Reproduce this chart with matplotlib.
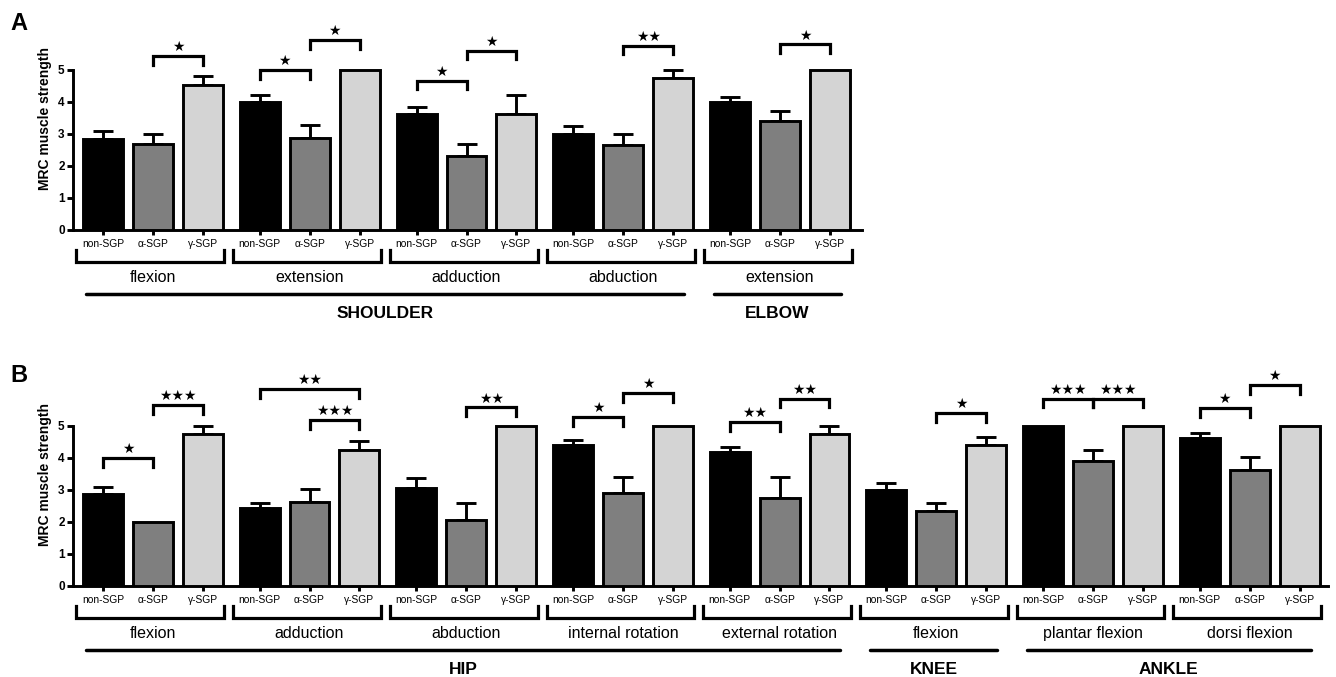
import matplotlib
matplotlib.use("Agg")
import matplotlib.pyplot as plt
import matplotlib.transforms as mtransforms
import numpy as np

plt.rcParams['font.family'] = ['Liberation Sans', 'DejaVu Sans']

# ---------------- data ----------------
groups_label = ["non-SGP", "α-SGP", "γ-SGP"]
bar_colors = ["#000000", "#7f7f7f", "#d4d4d4"]

# Panel A: shoulder / elbow
a_movements = ["flexion", "extension", "adduction", "abduction", "extension"]
a_non = [2.83, 3.99, 3.62, 3.00, 3.99]
a_alpha = [2.68, 2.87, 2.31, 2.67, 3.42]
a_gamma = [4.52, 5.00, 3.61, 4.76, 5.00]
a_non_err = [0.25, 0.23, 0.21, 0.24, 0.16]
a_alpha_err = [0.31, 0.40, 0.37, 0.33, 0.29]
a_gamma_err = [0.29, 0.00, 0.60, 0.24, 0.00]
a_joints = ["SHOULDER", "ELBOW"]
a_joint_groups = [(0, 3), (4, 4)]
# significance: (group, bar_i, bar_j, bracket height, label)
a_sig = [(0, 1, 2, 5.44, "★"),
         (1, 0, 1, 5.00, "★"), (1, 1, 2, 5.94, "★"),
         (2, 0, 1, 4.67, "★"), (2, 1, 2, 5.60, "★"),
         (3, 1, 2, 5.76, "★★"),
         (4, 1, 2, 5.80, "★")]

# Panel B: hip / knee / ankle
b_movements = ["flexion", "adduction", "abduction", "internal rotation",
               "external rotation", "flexion", "plantar flexion", "dorsi flexion"]
b_non = [2.87, 2.44, 3.07, 4.41, 4.18, 2.99, 5.00, 4.61]
b_alpha = [2.00, 2.62, 2.06, 2.92, 2.74, 2.34, 3.91, 3.62]
b_gamma = [4.75, 4.25, 5.00, 5.00, 4.74, 4.40, 5.00, 5.00]
b_non_err = [0.23, 0.16, 0.32, 0.15, 0.16, 0.24, 0.00, 0.16]
b_alpha_err = [0.00, 0.41, 0.52, 0.50, 0.66, 0.25, 0.35, 0.40]
b_gamma_err = [0.25, 0.29, 0.00, 0.00, 0.26, 0.25, 0.00, 0.00]
b_joints = ["HIP", "KNEE", "ANKLE"]
b_joint_groups = [(0, 4), (5, 5), (6, 7)]
b_sig = [(0, 0, 1, 3.99, "★"), (0, 1, 2, 5.66, "★★★"),
         (1, 0, 2, 6.15, "★★"), (1, 1, 2, 5.19, "★★★"),
         (2, 1, 2, 5.58, "★★"),
         (3, 0, 1, 5.27, "★"), (3, 1, 2, 6.02, "★"),
         (4, 0, 1, 5.12, "★★"), (4, 1, 2, 5.85, "★★"),
         (5, 1, 2, 5.40, "★"),
         (6, 0, 1, 5.85, "★★★"), (6, 1, 2, 5.85, "★★★"),
         (7, 0, 1, 5.56, "★"), (7, 1, 2, 6.28, "★")]

# ---------------- layout ----------------
W, H = 1336, 677
fig = plt.figure(figsize=(W / 100, H / 100), dpi=100)

GSTEP = 3.14
BW = 0.8
AX_H_PX = 224.0
LW = 2.1


def draw_panel(ax, movements, non, alpha, gamma, enon, ealpha, egamma,
               joints, joint_groups, sigs, xlim):
    n = len(movements)
    vals = [non, alpha, gamma]
    errs = [enon, ealpha, egamma]
    centers = []
    for i in range(3):
        x = np.arange(n) * GSTEP + i
        ax.bar(x, vals[i], width=BW, color=bar_colors[i], edgecolor="black",
               linewidth=LW, zorder=3)
        e = np.array(errs[i])
        m = e > 0
        ax.errorbar(x[m], np.array(vals[i])[m],
                    yerr=[np.zeros(m.sum()), e[m]], fmt="none",
                    ecolor="black", elinewidth=LW, capsize=7.5,
                    capthick=LW, zorder=2)
        centers.append(x)
    ax.set_xlim(*xlim)
    ax.set_ylim(0, 7)
    for s in ["top", "right"]:
        ax.spines[s].set_visible(False)
    ax.spines["left"].set_bounds(0, 5)
    ax.spines["left"].set_linewidth(LW)
    ax.spines["bottom"].set_linewidth(LW)
    ax.set_yticks(range(6))
    ax.set_yticklabels([str(v) for v in range(6)], fontweight="bold",
                       fontsize=8.5)
    ax.tick_params(axis="y", length=4, width=LW, pad=2)
    allx = np.sort(np.concatenate(centers))
    ax.set_xticks(allx)
    ax.set_xticklabels([])
    ax.tick_params(axis="x", length=3.5, width=LW, direction="out")
    ax.set_ylabel("MRC muscle strength", fontweight="bold", fontsize=10,
                  labelpad=4)

    tr = mtransforms.blended_transform_factory(ax.transData, ax.transAxes)

    def fy(px):
        return -px / AX_H_PX

    for g in range(n):
        for i in range(3):
            ax.text(g * GSTEP + i, fy(13), groups_label[i], transform=tr,
                    ha="center", va="center_baseline", fontsize=7.4,
                    clip_on=False)
        x0 = g * GSTEP - 0.53
        x1 = g * GSTEP + 2 + 0.43
        ax.plot([x0, x0, x1, x1], [fy(20), fy(32), fy(32), fy(20)],
                transform=tr, color="black", lw=2.3, clip_on=False,
                solid_joinstyle="miter")
        ax.text(g * GSTEP + 1, fy(46), movements[g], transform=tr,
                ha="center", va="center_baseline", fontsize=11.5,
                clip_on=False)

    for name, (g0, g1) in zip(joints, joint_groups):
        x0 = g0 * GSTEP - 0.33
        x1 = g1 * GSTEP + 2 + 0.22
        ax.plot([x0, x1], [fy(64), fy(64)], transform=tr, color="black",
                lw=2.5, clip_on=False, solid_capstyle="round")
        ax.text((x0 + x1) / 2, fy(82), name, transform=tr, ha="center",
                va="center_baseline", fontsize=12.5, fontweight="bold",
                clip_on=False)

    for g, i, j, h, lab in sigs:
        xa = g * GSTEP + i
        xb = g * GSTEP + j
        ax.plot([xa, xa, xb, xb], [h - 0.27, h, h, h - 0.27], color="black",
                lw=2.3, clip_on=False, solid_joinstyle="miter")
        ax.text((xa + xb) / 2, h + 0.28, lab, ha="center", va="center",
                fontsize=10, family=["DejaVu Sans"], clip_on=False)


# Panel A axes
axA = fig.add_axes([73 / W, 1 - 230 / H, (862 - 73) / W, AX_H_PX / H])
draw_panel(axA, a_movements, a_non, a_alpha, a_gamma, a_non_err, a_alpha_err,
           a_gamma_err, a_joints, a_joint_groups, a_sig, (-0.6, 15.2))

# Panel B axes
axB = fig.add_axes([73 / W, 1 - 586 / H, (1328 - 73) / W, AX_H_PX / H])
draw_panel(axB, b_movements, b_non, b_alpha, b_gamma, b_non_err, b_alpha_err,
           b_gamma_err, b_joints, b_joint_groups, b_sig, (-0.6, 24.55))

fig.text(10 / W, 1 - 23 / H, "A", fontsize=17, fontweight="bold",
         ha="left", va="center")
fig.text(10 / W, 1 - 375 / H, "B", fontsize=17, fontweight="bold",
         ha="left", va="center")

fig.savefig("out.png", dpi=100, facecolor="white")
